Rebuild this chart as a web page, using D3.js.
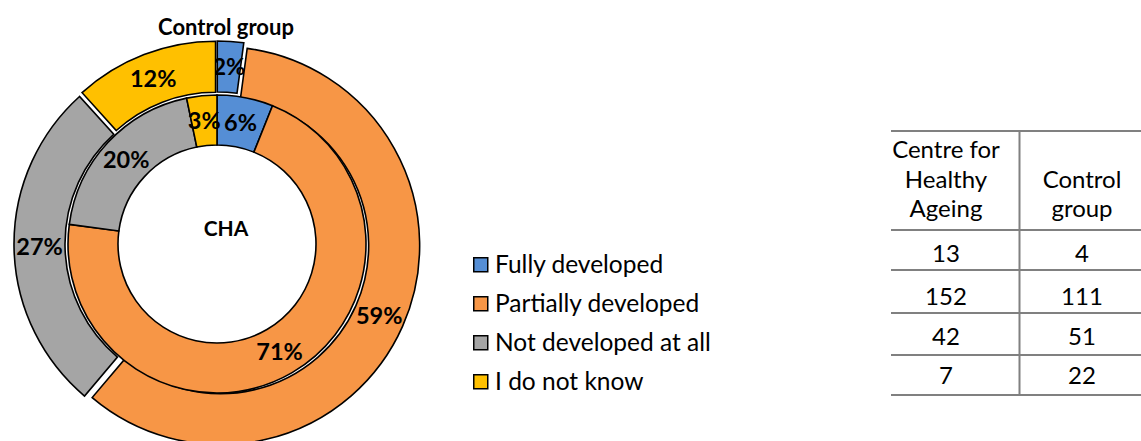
<!DOCTYPE html>
<html>
<head>
<meta charset="utf-8">
<script src="https://cdn.jsdelivr.net/npm/d3@7"></script>
<style>
  html, body { margin: 0; padding: 0; background: #fff; }
  svg { display: block; }
</style>
</head>
<body>
<svg id="chart" width="1141" height="441"></svg>
<script>
// ---- data ----
const categories = ["Fully developed", "Partially developed", "Not developed at all", "I do not know"];
const chaCounts = [13, 152, 42, 7];        // Centre for Healthy Ageing (inner ring)
const controlCounts = [4, 111, 51, 22];    // Control group (outer ring)
const colors = ["#558ED5", "#F79646", "#A5A5A5", "#FFC000"];
const tableHeaders = [["Centre for", "Healthy", "Ageing"], ["Control", "group"]];
const outerTitle = "Control group";
const innerTitle = "CHA";

// ---- layout ----
const svg = d3.select("#chart");
const cx = 217, cy = 244;
const holeR = 99, innerOuterR = 149;
const outerInnerR = 148, outerOuterR = 199, explode = 4;
const labelFont = "Lato, 'Open Sans', sans-serif";

const pie = d3.pie().sort(null).startAngle(0).endAngle(2 * Math.PI);
const fmt = (v, tot) => Math.round(v / tot * 100) + "%";

const g = svg.append("g").attr("transform", `translate(${cx},${cy})`);

// outer ring (control group), exploded
const outerArc = d3.arc().innerRadius(outerInnerR).outerRadius(outerOuterR);
const outerTot = d3.sum(controlCounts);
const outerG = g.selectAll("g.outer").data(pie(controlCounts)).join("g")
  .attr("class", "outer")
  .attr("transform", d => {
    const m = (d.startAngle + d.endAngle) / 2;
    return `translate(${explode * Math.sin(m)},${-explode * Math.cos(m)})`;
  });
outerG.append("path")
  .attr("d", outerArc)
  .attr("fill", (d, i) => colors[i])
  .attr("stroke", "#000").attr("stroke-width", 1.6).attr("stroke-linejoin", "miter");

// inner ring (CHA)
const innerArc = d3.arc().innerRadius(holeR).outerRadius(innerOuterR);
const innerTot = d3.sum(chaCounts);
g.selectAll("path.inner").data(pie(chaCounts)).join("path")
  .attr("class", "inner")
  .attr("d", innerArc)
  .attr("fill", (d, i) => colors[i])
  .attr("stroke", "#000").attr("stroke-width", 1.6);

// labels
outerG.append("text")
  .attr("transform", d => `translate(${outerArc.centroid(d)})`)
  .attr("text-anchor", "middle").attr("dy", "0.36em")
  .attr("font-family", labelFont).attr("font-weight", "bold").attr("font-size", 23.5)
  .attr("fill", "#000")
  .text(d => fmt(d.value, outerTot));

g.selectAll("text.inl").data(pie(chaCounts)).join("text")
  .attr("class", "inl")
  .attr("transform", d => `translate(${innerArc.centroid(d)})`)
  .attr("text-anchor", "middle").attr("dy", "0.36em")
  .attr("font-family", labelFont).attr("font-weight", "bold").attr("font-size", 23.5)
  .attr("fill", "#000")
  .text(d => fmt(d.value, innerTot));

// titles
svg.append("text").attr("x", 226).attr("y", 35).attr("text-anchor", "middle")
  .attr("font-family", labelFont).attr("font-weight", "bold").attr("font-size", 22)
  .text(outerTitle);
svg.append("text").attr("x", 226).attr("y", 236).attr("text-anchor", "middle")
  .attr("font-family", labelFont).attr("font-weight", "bold").attr("font-size", 21)
  .text(innerTitle);

// legend
const legend = svg.append("g").attr("transform", "translate(473,273)");
const lg = legend.selectAll("g").data(categories).join("g")
  .attr("transform", (d, i) => `translate(0,${i * 39})`);
lg.append("rect").attr("x", 0.75).attr("y", -15.25).attr("width", 14).attr("height", 14)
  .attr("fill", (d, i) => colors[i]).attr("stroke", "#000").attr("stroke-width", 1.5);
lg.append("text").attr("x", 22).attr("y", 0)
  .attr("font-family", labelFont).attr("font-size", 24.5).attr("fill", "#000")
  .text(d => d);

// table
const tbl = svg.append("g");
const tLeft = 891, tRight = 1141, tMid = 1019.5;
const hLines = [131, 230, 270, 313, 355, 395];
tbl.selectAll("line.h").data(hLines).join("line")
  .attr("x1", tLeft).attr("x2", tRight).attr("y1", d => d).attr("y2", d => d)
  .attr("stroke", "#808080").attr("stroke-width", 2);
tbl.append("line").attr("x1", tMid).attr("x2", tMid).attr("y1", 130).attr("y2", 396)
  .attr("stroke", "#808080").attr("stroke-width", 2);
const colX = [946, 1082];
const headerBase = [158, 188, 217];
tableHeaders.forEach((lines, c) => {
  const off = headerBase.length - lines.length;
  lines.forEach((t, j) => {
    tbl.append("text").attr("x", colX[c]).attr("y", headerBase[j + off])
      .attr("text-anchor", "middle").attr("font-family", labelFont).attr("font-size", 24)
      .text(t);
  });
});
const rowBase = [262, 305, 345, 384];
[chaCounts, controlCounts].forEach((col, c) => {
  col.forEach((v, r) => {
    tbl.append("text").attr("x", colX[c]).attr("y", rowBase[r])
      .attr("text-anchor", "middle").attr("font-family", labelFont).attr("font-size", 24)
      .text(v);
  });
});
</script>
</body>
</html>
